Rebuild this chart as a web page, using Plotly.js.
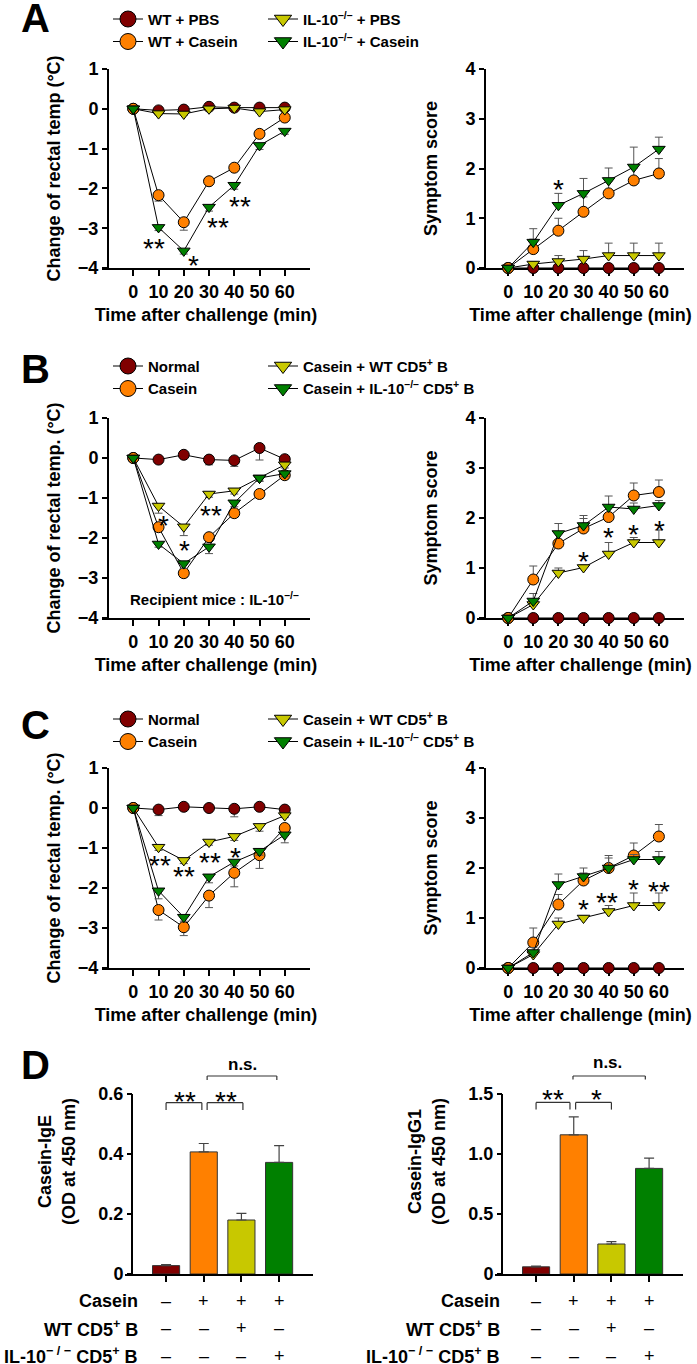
<!DOCTYPE html>
<html><head><meta charset="utf-8">
<script src="https://cdn.plot.ly/plotly-3.0.1.min.js"></script>
<style>body{margin:0;background:#fff}#chart{width:697px;height:1364px}</style>
</head><body><div id="chart"></div>
<script>
// ---------------- DATA ----------------
const timePoints = [0, 10, 20, 30, 40, 50, 60];
const timeTicks = ['0', '10', '20', '30', '40', '50', '60'];

// Panel A – rectal temperature change (°C)
const A_temp_WT_PBS      = [0, -0.04, -0.02, 0.05, 0.03, 0.03, 0.03];
const A_temp_WT_Casein   = [0, -2.17, -2.85, -1.82, -1.48, -0.63, -0.22];
const A_temp_KO_PBS      = [0, -0.12, -0.13, 0.00, 0.02, -0.07, -0.02];
const A_temp_KO_Casein   = [0, -2.98, -3.57, -2.47, -1.92, -0.92, -0.56];
const A_tempErr_WT_PBS    = [0, 0.03, 0.03, 0.03, 0.03, 0.03, 0.03];
const A_tempErr_WT_Casein = [0, 0.15, 0.20, 0.08, 0.08, 0.08, 0.08];
const A_tempErr_KO_PBS    = [0, 0.03, 0.03, 0.03, 0.03, 0.03, 0.03];
const A_tempErr_KO_Casein = [0, 0.08, 0.08, 0.10, 0.10, 0.10, 0.08];
// Panel A – symptom score
const A_sym_WT_PBS      = [0, 0, 0, 0, 0, 0, 0];
const A_sym_WT_Casein   = [0, 0.38, 0.75, 1.13, 1.50, 1.76, 1.90];
const A_sym_KO_PBS      = [0, 0.08, 0.13, 0.18, 0.25, 0.25, 0.25];
const A_sym_KO_Casein   = [0, 0.52, 1.26, 1.50, 1.76, 2.03, 2.39];
const A_symErr_WT_PBS    = [0, 0, 0, 0, 0, 0, 0];
const A_symErr_WT_Casein = [0, 0.20, 0.25, 0.30, 0.25, 0.25, 0.30];
const A_symErr_KO_PBS    = [0, 0.05, 0.12, 0.17, 0.25, 0.25, 0.25];
const A_symErr_KO_Casein = [0, 0.27, 0.24, 0.30, 0.25, 0.40, 0.24];

// Panel B – temperature
const B_temp_Normal = [0, -0.04, 0.08, -0.04, -0.06, 0.25, -0.03];
const B_temp_Casein = [0, -1.73, -2.88, -1.98, -1.38, -0.90, -0.43];
const B_temp_WTB    = [0, -1.20, -1.72, -0.90, -0.82, -0.50, -0.17];
const B_temp_KOB    = [0, -2.15, -2.64, -2.22, -1.12, -0.50, -0.39];
const B_tempErr_Normal = [0, 0.03, 0.03, 0.13, 0.15, 0.30, 0.03];
const B_tempErr_Casein = [0, 0.10, 0.10, 0.10, 0.10, 0.10, 0.10];
const B_tempErr_WTB    = [0, 0.18, 0.22, 0.08, 0.08, 0.08, 0.08];
const B_tempErr_KOB    = [0, 0.08, 0.12, 0.17, 0.10, 0.08, 0.08];
// Panel B – symptom
const B_sym_Normal = [0, 0, 0, 0, 0, 0, 0];
const B_sym_Casein = [0, 0.77, 1.49, 1.79, 2.02, 2.45, 2.52];
const B_sym_WTB    = [0, 0.27, 0.90, 1.01, 1.28, 1.51, 1.51];
const B_sym_KOB    = [0, 0.34, 1.69, 1.85, 2.22, 2.18, 2.25];
const B_symErr_Normal = [0, 0, 0, 0, 0, 0, 0];
const B_symErr_Casein = [0, 0.27, 0.20, 0.20, 0.20, 0.25, 0.24];
const B_symErr_WTB    = [0, 0.10, 0.10, 0.05, 0.23, 0.10, 0.25];
const B_symErr_KOB    = [0, 0.15, 0.20, 0.20, 0.22, 0.12, 0.10];

// Panel C – temperature
const C_temp_Normal = [0, -0.04, 0.03, 0.00, -0.02, 0.03, -0.04];
const C_temp_Casein = [0, -2.55, -2.98, -2.19, -1.62, -1.18, -0.50];
const C_temp_WTB    = [0, -0.98, -1.31, -0.85, -0.71, -0.46, -0.19];
const C_temp_KOB    = [0, -2.07, -2.73, -1.72, -1.35, -1.08, -0.67];
const C_tempErr_Normal = [0, 0.15, 0.05, 0.05, 0.20, 0.05, 0.05];
const C_tempErr_Casein = [0, 0.25, 0.21, 0.30, 0.35, 0.33, 0.10];
const C_tempErr_WTB    = [0, 0.08, 0.08, 0.08, 0.10, 0.12, 0.05];
const C_tempErr_KOB    = [0, 0.20, 0.10, 0.15, 0.10, 0.10, 0.20];
// Panel C – symptom
const C_sym_Normal = [0, 0, 0, 0, 0, 0, 0];
const C_sym_Casein = [0, 0.51, 1.27, 1.75, 2.00, 2.25, 2.63];
const C_sym_WTB    = [0, 0.27, 0.88, 1.00, 1.13, 1.25, 1.25];
const C_sym_KOB    = [0, 0.31, 1.67, 1.83, 2.00, 2.17, 2.17];
const C_symErr_Normal = [0, 0, 0, 0, 0, 0, 0];
const C_symErr_Casein = [0, 0.29, 0.20, 0.15, 0.20, 0.25, 0.24];
const C_symErr_WTB    = [0, 0.05, 0.12, 0.05, 0.12, 0.25, 0.25];
const C_symErr_KOB    = [0, 0.10, 0.21, 0.17, 0.25, 0.10, 0.16];

// Panel D – ELISA
const D_groups = ['Normal', 'Casein', 'Casein + WT CD5+ B', 'Casein + IL-10-/- CD5+ B'];
const D_IgE     = [0.028, 0.407, 0.180, 0.372];
const D_IgE_err = [0.003, 0.028, 0.022, 0.056];
const D_IgG1     = [0.06, 1.16, 0.25, 0.88];
const D_IgG1_err = [0.005, 0.15, 0.02, 0.085];
const D_rowCasein = ['\u2013', '+', '+', '+'];
const D_rowWTB    = ['\u2013', '\u2013', '+', '\u2013'];
const D_rowKOB    = ['\u2013', '\u2013', '\u2013', '+'];
const D_rowLabels = ['Casein', 'WT CD5<sup>+</sup> B', 'IL-10<sup>\u2212 / \u2212</sup> CD5<sup>+</sup> B'];

// Legend names
const namesA = ['WT + PBS', 'WT + Casein', 'IL-10<sup>\u2013/\u2013</sup> + PBS', 'IL-10<sup>\u2013/\u2013</sup> + Casein'];
const namesBC = ['Normal', 'Casein', 'Casein + WT CD5<sup>+</sup> B', 'Casein + IL-10<sup>\u2013/\u2013</sup> CD5<sup>+</sup> B'];

// ---------------- STYLE / LAYOUT HELPERS ----------------
const W = 697, H = 1364;
const FONT = '"Liberation Sans", Arial, sans-serif';
const px = v => v / W;
const py = v => 1 - v / H;
const COL = ['#800000', '#ff8000', '#c8c800', '#008000'];
const SYM = ['circle', 'circle', 'triangle-down', 'triangle-down'];

const traces = [];
function addSeries(xa, ya, vals, errs, dir) {
  vals.forEach((v, i) => {
    const e = errs[i];
    const zeros = e.map(() => 0);
    traces.push({
      type: 'scatter', mode: 'lines+markers', x: timePoints, y: v,
      xaxis: xa, yaxis: ya, showlegend: false, cliponaxis: false, hoverinfo: 'skip',
      line: { color: '#000', width: 1 },
      marker: { color: COL[i], symbol: SYM[i], size: 11, line: { color: '#000', width: 1 } },
      error_y: { type: 'data', symmetric: false,
        array: dir === 'up' ? e : zeros, arrayminus: dir === 'down' ? e : zeros,
        color: '#555', thickness: 1, width: 4 }
    });
  });
}
function addLegend(names, legA, legB) {
  names.forEach((n, i) => {
    traces.push({
      type: 'scatter', mode: 'lines+markers', x: [null], y: [null], xaxis: 'x', yaxis: 'y',
      name: n, legend: i < 2 ? legA : legB, showlegend: true,
      line: { color: '#000', width: 1 },
      marker: { color: COL[i], symbol: SYM[i], size: i < 2 ? 16 : 15, line: { color: '#000', width: 1 } }
    });
  });
}

addSeries('x', 'y', [A_temp_WT_PBS, A_temp_WT_Casein, A_temp_KO_PBS, A_temp_KO_Casein],
  [A_tempErr_WT_PBS, A_tempErr_WT_Casein, A_tempErr_KO_PBS, A_tempErr_KO_Casein], 'down');
addSeries('x2', 'y2', [A_sym_WT_PBS, A_sym_WT_Casein, A_sym_KO_PBS, A_sym_KO_Casein],
  [A_symErr_WT_PBS, A_symErr_WT_Casein, A_symErr_KO_PBS, A_symErr_KO_Casein], 'up');
addSeries('x3', 'y3', [B_temp_Normal, B_temp_Casein, B_temp_WTB, B_temp_KOB],
  [B_tempErr_Normal, B_tempErr_Casein, B_tempErr_WTB, B_tempErr_KOB], 'down');
addSeries('x4', 'y4', [B_sym_Normal, B_sym_Casein, B_sym_WTB, B_sym_KOB],
  [B_symErr_Normal, B_symErr_Casein, B_symErr_WTB, B_symErr_KOB], 'up');
addSeries('x5', 'y5', [C_temp_Normal, C_temp_Casein, C_temp_WTB, C_temp_KOB],
  [C_tempErr_Normal, C_tempErr_Casein, C_tempErr_WTB, C_tempErr_KOB], 'down');
addSeries('x6', 'y6', [C_sym_Normal, C_sym_Casein, C_sym_WTB, C_sym_KOB],
  [C_symErr_Normal, C_symErr_Casein, C_symErr_WTB, C_symErr_KOB], 'up');

addLegend(namesA, 'legend', 'legend2');
addLegend(namesBC, 'legend3', 'legend4');
addLegend(namesBC, 'legend5', 'legend6');

// Bars
[['x7', 'y7', D_IgE, D_IgE_err], ['x8', 'y8', D_IgG1, D_IgG1_err]].forEach(([xa, ya, v, e]) => {
  traces.push({
    type: 'bar', x: D_groups, y: v, xaxis: xa, yaxis: ya, showlegend: false, hoverinfo: 'skip',
    width: 0.72, cliponaxis: false,
    marker: { color: COL, line: { color: '#333', width: 1 } },
    error_y: { type: 'data', symmetric: false, array: e, arrayminus: e.map(() => 0),
      color: '#444', thickness: 1.2, width: 5 }
  });
});

// ---------------- LAYOUT ----------------
const tickFont = { family: FONT, size: 18, color: '#000', weight: 'bold' };
const titleFont = { family: FONT, size: 18, color: '#000', weight: 'bold' };
const base = {
  showgrid: false, zeroline: false, showline: true, linecolor: '#000', linewidth: 2,
  ticks: 'outside', tickcolor: '#000', tickwidth: 2, ticklen: 5, tickfont: tickFont,
  layer: 'below traces', fixedrange: true
};
const layout = {
  width: W, height: H, margin: { l: 0, r: 0, t: 0, b: 0 },
  paper_bgcolor: '#fff', plot_bgcolor: 'rgba(0,0,0,0)',
  font: { family: FONT, color: '#000' },
  annotations: [], shapes: []
};

const panelsY = [[69, 268], [418, 618], [768, 968]];
const xDomL = [102, 310], xDomR = [477, 684];
const yPosL = 108, yPosR = 485;
const tempTitles = ['Change of rectal temp (\u00b0C)', 'Change of rectal temp. (\u00b0C)', 'Change of rectal temp. (\u00b0C)'];

panelsY.forEach((yy, p) => {
  const nL = 2 * p + 1, nR = 2 * p + 2;
  const sfx = n => (n === 1 ? '' : String(n));
  const ydom = [py(yy[1]), py(yy[0])];
  [[nL, xDomL, yPosL], [nR, xDomR, yPosR]].forEach(([n, xd, yp], side) => {
    layout['xaxis' + sfx(n)] = Object.assign({}, base, {
      domain: [px(xd[0]), px(xd[1])], anchor: 'y' + sfx(n), range: [-12.4, 70],
      tickvals: timePoints, ticktext: timeTicks, ticklen: 6,
      title: { text: 'Time after challenge (min)', font: titleFont, standoff: 8 }
    });
    layout['yaxis' + sfx(n)] = Object.assign({}, base, {
      domain: ydom, anchor: 'free', position: px(yp),
      range: side === 0 ? [-4, 1] : [0, 4],
      tickvals: side === 0 ? [-4, -3, -2, -1, 0, 1] : [0, 1, 2, 3, 4],
      title: { text: side === 0 ? tempTitles[p] : 'Symptom score', font: titleFont, standoff: side === 0 ? 12 : 22 }
    });
  });
});

// Panel D axes
const dRange = [-1.09, 3.9];
const dDomL = [125, 313], dDomR = [495, 683];
const dYpos = [132, 502];
const dYdom = [py(1274), py(1049)];
[[7, dDomL, dYpos[0], [0, 0.75], [0, 0.2, 0.4, 0.6], ['0', '0.2', '0.4', '0.6'], 'Casein-IgE<br>(OD at 450 nm)'],
 [8, dDomR, dYpos[1], [0, 1.875], [0, 0.5, 1.0, 1.5], ['0', '0.5', '1.0', '1.5'], 'Casein-IgG1<br>(OD at 450 nm)']]
.forEach(([n, xd, yp, yr, tv, tt, ttl]) => {
  layout['xaxis' + n] = Object.assign({}, base, {
    domain: [px(xd[0]), px(xd[1])], anchor: 'y' + n, type: 'category',
    categoryorder: 'array', categoryarray: D_groups, range: dRange,
    tickvals: D_groups, showticklabels: false, ticklen: 6
  });
  layout['yaxis' + n] = Object.assign({}, base, {
    domain: dYdom, anchor: 'free', position: px(yp), range: yr, showline: false,
    tickvals: tv, ticktext: tt,
    title: { text: ttl, font: titleFont, standoff: 17 }
  });
  // visible y-axis line (from 0 to top tick only)
  const xLine = dRange[0] + (yp - xd[0]) / (xd[1] - xd[0]) * (dRange[1] - dRange[0]);
  layout.shapes.push({ type: 'line', xref: 'x' + n, yref: 'y' + n, x0: xLine, x1: xLine, y0: 0, y1: tv[tv.length - 1],
    line: { color: '#000', width: 2 } });
});

// Legends
const legBase = { bgcolor: 'rgba(0,0,0,0)', borderwidth: 0, xanchor: 'left', yanchor: 'top',
  font: { family: FONT, size: 15, color: '#000', weight: 'bold' }, tracegroupgap: 0, itemclick: false, itemdoubleclick: false };
const legTops = [2.75, 349.75, 702.75];
['legend', 'legend2', 'legend3', 'legend4', 'legend5', 'legend6'].forEach((k, i) => {
  const row = Math.floor(i / 2), col = i % 2;
  layout[k] = Object.assign({}, legBase, { x: px(col === 0 ? 108 : 263), y: py(legTops[row]) });
});

// Annotations
const A = layout.annotations;
function txt(text, xref, yref, x, y, size, bold, extra) {
  A.push(Object.assign({ text, xref, yref, x, y, showarrow: false, xanchor: 'center', yanchor: 'middle',
    font: { family: FONT, size, color: '#000', weight: bold ? 'bold' : 'normal' } }, extra || {}));
}
function star(text, xa, ya, x, y) { txt(text, xa, ya, x, y, 28, false, { yshift: -7 }); }

// panel letters
[['A', 18.5], ['B', 369], ['C', 725], ['D', 1064.5]].forEach(([l, y]) => txt(l, 'paper', 'paper', px(35), py(y), 40, true));

// significance stars on line charts
const starsList = [
  ['x', 'y', [['**', 8.2, -3.34], ['*', 23.9, -3.75], ['**', 33.7, -2.81], ['**', 42.3, -2.28]]],
  ['x2', 'y2', [['*', 20, 1.71]]],
  ['x3', 'y3', [['*', 11.9, -1.5], ['*', 20.3, -2.13], ['**', 30.9, -1.27]]],
  ['x4', 'y4', [['*', 30, 1.28], ['*', 40, 1.75], ['*', 50, 1.82], ['*', 60.4, 1.9]]],
  ['x5', 'y5', [['**', 10.6, -1.26], ['**', 19.9, -1.54], ['**', 30.5, -1.18], ['*', 40.4, -1.06]]],
  ['x6', 'y6', [['*', 30, 1.32], ['**', 39.5, 1.45], ['*', 49.7, 1.71], ['**', 60, 1.68]]]
];
starsList.forEach(([xa, ya, list]) => list.forEach(([t, x, y]) => star(t, xa, ya, x, y)));

txt('Recipient mice : IL-10<sup>\u2013/\u2013</sup>', 'x3', 'y3', 32, -3.5, 15, true);

// Panel D: brackets, stars, table rows
function bracket(n, x0, x1, yTop, yBot) {
  const ref = { xref: 'x' + n, yref: 'y' + n, line: { color: '#333', width: 1.2 } };
  layout.shapes.push(Object.assign({ type: 'line', x0, x1, y0: yTop, y1: yTop }, ref));
  layout.shapes.push(Object.assign({ type: 'line', x0, x1: x0, y0: yTop, y1: yBot }, ref));
  layout.shapes.push(Object.assign({ type: 'line', x0: x1, x1, y0: yTop, y1: yBot }, ref));
}
bracket(7, 0, 0.95, 0.571, 0.547);
bracket(7, 1.09, 2.04, 0.571, 0.547);
bracket(7, 1.09, 2.94, 0.66, 0.647);
star('**', 'x7', 'y7', 0.5, 0.60);
star('**', 'x7', 'y7', 1.6, 0.60);
txt('n.s.', 'x7', 'y7', 2.02, 0.70, 17, true);

bracket(8, 0, 0.9, 1.43, 1.37);
bracket(8, 1.05, 2.0, 1.43, 1.37);
bracket(8, 0.98, 2.9, 1.65, 1.62);
star('**', 'x8', 'y8', 0.45, 1.51);
star('*', 'x8', 'y8', 1.6, 1.51);
txt('n.s.', 'x8', 'y8', 1.9, 1.76, 17, true);

const rowY = [1300.5, 1328, 1355.5];
[[7, 140], [8, 502]].forEach(([n, labRight]) => {
  D_rowLabels.forEach((lab, r) => txt(lab, 'paper', 'paper', px(labRight), py(rowY[r]), 18, true, { xanchor: 'right' }));
  [D_rowCasein, D_rowWTB, D_rowKOB].forEach((row, r) => {
    row.forEach((s, i) => txt(s, 'x' + n, 'paper', i, py(rowY[r]), 18, false));
  });
});

Plotly.newPlot('chart', traces, layout, { staticPlot: true, displayModeBar: false });
</script></body></html>
